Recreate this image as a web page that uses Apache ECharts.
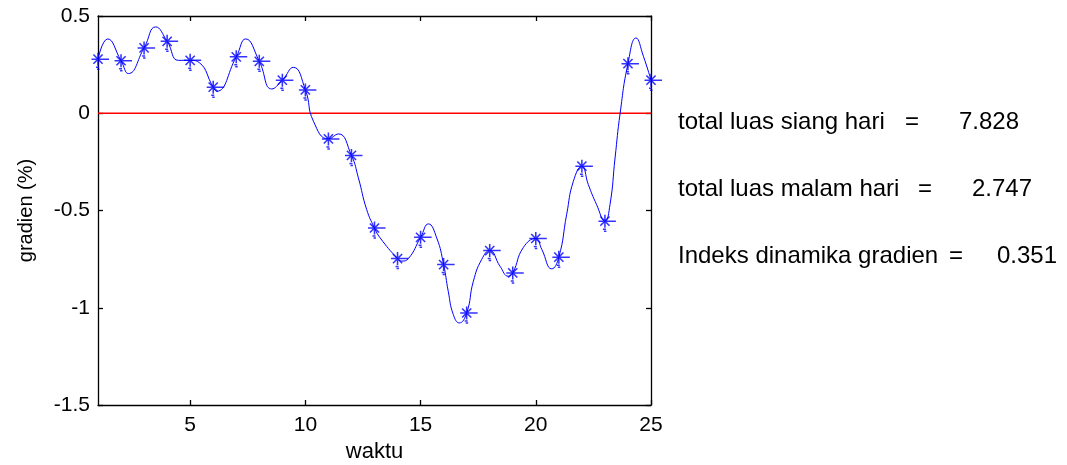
<!DOCTYPE html>
<html>
<head>
<meta charset="utf-8">
<script src="https://cdn.jsdelivr.net/npm/echarts@6/dist/echarts.min.js"></script>
<style>html,body{margin:0;padding:0;background:#fff;}#c{width:1067px;height:465px;}</style>
</head>
<body>
<div id="c"></div>
<script>
// hourly gradient values (asterisk markers)
var hours = [1,2,3,4,5,6,7,8,9,10,11,12,13,14,15,16,17,18,19,20,21,22,23,24,25];
var hourValues = [0.278,0.27,0.336,0.37,0.272,0.134,0.29,0.267,0.17,0.12,-0.132,-0.217,-0.59,-0.747,-0.638,-0.778,-1.027,-0.706,-0.821,-0.644,-0.74,-0.272,-0.555,0.255,0.17];
// smooth curve
var curveX = [1,1.42,2,2.32,3,3.5,4,4.49,5,5.4,6,6.15,7,7.41,8,8.54,9,9.48,10,10.35,11,11.43,12,12.3,12.66,13,13.24,14,14.18,14.47,15,15.34,15.7,16,16.2,16.42,16.68,17,17.29,17.65,18,18.45,18.81,19,19.46,20,20.26,20.69,21,21.34,21.63,22,22.28,22.64,23,23.22,23.44,23.66,24,24.35,24.67,25];
var curveY = [0.278,0.382,0.27,0.204,0.336,0.444,0.37,0.272,0.272,0.26,0.134,0.113,0.29,0.382,0.267,0.125,0.17,0.236,0.12,-0.041,-0.132,-0.106,-0.217,-0.332,-0.495,-0.59,-0.64,-0.747,-0.76,-0.747,-0.638,-0.569,-0.641,-0.778,-0.915,-1.035,-1.078,-1.027,-0.864,-0.752,-0.706,-0.787,-0.838,-0.821,-0.69,-0.644,-0.70,-0.80,-0.74,-0.52,-0.35,-0.272,-0.367,-0.47,-0.555,-0.47,-0.23,0,0.255,0.387,0.293,0.17];
// zero reference line
var zeroX = [1, 25];
var zeroY = [0, 0];
var xTicks = [5,10,15,20,25];
var summaryLabels = ['total luas siang hari', 'total luas malam hari', 'Indeks dinamika gradien'];
var summaryValues = ['7.828', '2.747', '0.351'];

var FONT = 'Liberation Sans, Arial, sans-serif';
var chart = echarts.init(document.getElementById('c'), null, {renderer: 'canvas'});

var curveData = curveX.map(function (x, i) { return [x, curveY[i]]; });
var markerData = hours.map(function (h, i) { return [h, hourValues[i]]; });
var zeroData = zeroX.map(function (x, i) { return [x, zeroY[i]]; });

var textEls = [];
var eqX = [905, 918, 949];
var valX = [959, 972, 997];
var lineTop = [110, 177, 244];
for (var i = 0; i < summaryLabels.length; i++) {
  textEls.push({type: 'text', left: 678, top: lineTop[i],
    style: {text: summaryLabels[i], font: '24px ' + FONT, fill: '#000'}});
  textEls.push({type: 'text', left: eqX[i], top: lineTop[i],
    style: {text: '=', font: '24px ' + FONT, fill: '#000'}});
  textEls.push({type: 'text', left: valX[i], top: lineTop[i],
    style: {text: summaryValues[i], font: '24px ' + FONT, fill: '#000'}});
}

var axLine = {show: true, onZero: false, lineStyle: {color: '#000', width: 1.3}};
var tickStyle = {color: '#000', width: 1.3};
var option = {
  animation: false,
  backgroundColor: '#fff',
  grid: {left: 98, right: 416, top: 16, bottom: 60, show: false, containLabel: false, outerBoundsMode: 'none'},
  xAxis: [{
    type: 'value', min: 1, max: 25, position: 'bottom',
    name: 'waktu', nameLocation: 'middle', nameGap: 33,
    nameTextStyle: {fontFamily: FONT, fontSize: 22, color: '#000'},
    axisLine: axLine,
    axisTick: {show: true, inside: true, length: 5, customValues: xTicks, lineStyle: tickStyle},
    axisLabel: {show: true, customValues: xTicks, fontFamily: FONT, fontSize: 21, color: '#000', margin: 10},
    splitLine: {show: false}
  }, {
    type: 'value', min: 1, max: 25, position: 'top',
    axisLine: axLine,
    axisTick: {show: true, inside: true, length: 5, customValues: xTicks, lineStyle: tickStyle},
    axisLabel: {show: false},
    splitLine: {show: false}
  }],
  yAxis: [{
    type: 'value', min: -1.5, max: 0.5, interval: 0.5, position: 'left',
    name: 'gradien (%)', nameLocation: 'middle', nameGap: 62, nameRotate: 90,
    nameTextStyle: {fontFamily: FONT, fontSize: 20, color: '#000'},
    axisLine: axLine,
    axisTick: {show: true, inside: true, length: 5, lineStyle: tickStyle},
    axisLabel: {fontFamily: FONT, fontSize: 21, color: '#000', margin: 8},
    splitLine: {show: false}
  }, {
    type: 'value', min: -1.5, max: 0.5, interval: 0.5, position: 'right',
    axisLine: axLine,
    axisTick: {show: true, inside: true, length: 5, lineStyle: tickStyle},
    axisLabel: {show: false},
    splitLine: {show: false}
  }],
  series: [{
    type: 'line',
    data: zeroData,
    symbol: 'none',
    lineStyle: {color: '#ff0000', width: 1.3},
    silent: true,
    z: 2
  }, {
    type: 'line',
    data: curveData,
    smooth: 0.5,
    showSymbol: false,
    symbol: 'none',
    lineStyle: {color: '#0000ff', width: 1},
    z: 3
  }, {
    type: 'scatter',
    data: markerData,
    clip: false,
    symbol: 'path://M0,6.5L17.5,6.5M6.5,0L6.5,13M1.9,1.9L11.1,11.1M11.1,1.9L1.9,11.1M4.5,14.5L7.5,14.5M5.5,16.5L8,16.5',
    symbolSize: [17.5, 16.5],
    symbolOffset: [2.25, 1.75],
    itemStyle: {color: 'rgba(0,0,0,0)', borderColor: '#0000ff', borderWidth: 1.5},
    z: 4
  }],
  graphic: textEls
};
chart.setOption(option);
</script>
</body>
</html>
